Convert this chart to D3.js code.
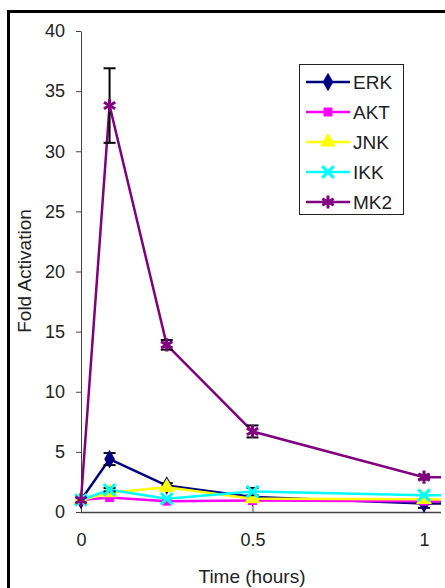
<!DOCTYPE html>
<html>
<head>
<meta charset="utf-8">
<script src="https://cdn.jsdelivr.net/npm/d3@7"></script>
<style>
  body { margin: 0; background: #fff; }
  svg { display: block; font-family: "Liberation Sans", Arial, sans-serif; }
</style>
</head>
<body>
<div id="chart"></div>
<script>
// time points in hours (last one lies past the cropped right edge)
var times = [0, 0.0833, 0.25, 0.5, 1, 2];
var seriesNames = ['ERK', 'AKT', 'JNK', 'IKK', 'MK2'];
var erkValues = [1, 4.4, 2.2, 1.25, 0.7, 0.7];
var aktValues = [1, 1.2, 0.9, 0.95, 0.9, 0.9];
var jnkValues = [1, 1.6, 2.05, 1.1, 1.05, 1.0];
var ikkValues = [1, 1.85, 1.1, 1.7, 1.4, 1.3];
var mk2Values = [1, 33.8, 13.9, 6.7, 2.9, 2.6];
var erkErrors = [0, 0.5, 0.2, 0, 0.35, 0];
var aktErrors = [0, 0, 0, 0, 0, 0];
var jnkErrors = [0, 0, 0, 0, 0, 0];
var ikkErrors = [0, 0.15, 0, 0.3, 0, 0];
var mk2Errors = [0, 3.1, 0.4, 0.5, 0.2, 0];
var xTicks = [0, 0.5, 1];
var yTicks = [0, 5, 10, 15, 20, 25, 30, 35, 40];

window.onload = function() {
    drawChart();
}

function drawChart() {
    var width = 445;
    var height = 588;
    var colors = ['#000080', '#ff00ff', '#ffff00', '#00ffff', '#800080'];
    var values = [erkValues, aktValues, jnkValues, ikkValues, mk2Values];
    var errors = [erkErrors, aktErrors, jnkErrors, ikkErrors, mk2Errors];

    var series = seriesNames.map(function(name, i) {
        return {
            name: name,
            color: colors[i],
            points: times.map(function(t, j) {
                return { t: t, v: values[i][j], e: errors[i][j] };
            })
        };
    });

    var x = d3.scaleLinear().domain([0, 1]).range([81, 424]);
    var y = d3.scaleLinear().domain([0, 40]).range([512, 31]);

    var svg = d3.select('#chart')
        .append('svg')
        .attr('width', width)
        .attr('height', height);

    svg.append('defs').append('clipPath')
        .attr('id', 'plotclip')
        .append('rect')
        .attr('x', 0).attr('y', 0)
        .attr('width', 441).attr('height', height);

    // frame (top and left edges of the cropped border)
    svg.append('rect').attr('x', 7).attr('y', 10).attr('width', 438).attr('height', 3).attr('fill', '#000');
    svg.append('rect').attr('x', 7).attr('y', 10).attr('width', 3).attr('height', 578).attr('fill', '#000');

    // y axis
    var yAxis = svg.append('g')
        .attr('transform', 'translate(81,0)')
        .call(d3.axisLeft(y).tickValues(yTicks).tickSizeInner(5).tickSizeOuter(0).tickPadding(11));
    yAxis.select('.domain').attr('stroke', '#444');
    yAxis.selectAll('.tick line').attr('stroke', '#444');
    yAxis.selectAll('text').attr('font-size', 18).attr('fill', '#222')
        .attr('font-family', '"Liberation Sans", Arial, sans-serif');

    // x axis
    var xAxis = svg.append('g')
        .attr('transform', 'translate(0,512.5)')
        .call(d3.axisBottom(x).tickValues(xTicks).tickFormat(d3.format('')).tickSizeInner(-7).tickSizeOuter(0).tickPadding(21));
    xAxis.select('.domain').remove();
    xAxis.append('line')
        .attr('x1', 81).attr('x2', 441)
        .attr('stroke', '#444').attr('stroke-width', 1.5);
    xAxis.selectAll('.tick line').attr('stroke', '#444');
    xAxis.selectAll('text').attr('font-size', 18).attr('fill', '#222')
        .attr('font-family', '"Liberation Sans", Arial, sans-serif');

    // titles
    svg.append('text')
        .attr('x', 252).attr('y', 583)
        .attr('text-anchor', 'middle')
        .attr('font-size', 19).attr('fill', '#222')
        .text('Time (hours)');
    svg.append('text')
        .attr('transform', 'translate(31,271) rotate(-90)')
        .attr('text-anchor', 'middle')
        .attr('font-size', 19).attr('fill', '#222')
        .text('Fold Activation');

    var plot = svg.append('g').attr('clip-path', 'url(#plotclip)');

    var line = d3.line()
        .x(function(d) { return x(d.t); })
        .y(function(d) { return y(d.v); });

    series.forEach(function(s, i) {
        var g = plot.append('g').attr('class', 'series-' + s.name);

        g.append('path')
            .datum(s.points)
            .attr('d', line)
            .attr('fill', 'none')
            .attr('stroke', s.color)
            .attr('stroke-width', 2.5);

        // error bars
        var eb = g.selectAll('.err')
            .data(s.points.filter(function(d) { return d.e > 0; }))
            .enter()
            .append('g')
            .attr('class', 'err');
        eb.append('line')
            .attr('x1', function(d) { return x(d.t); })
            .attr('x2', function(d) { return x(d.t); })
            .attr('y1', function(d) { return y(d.v - d.e); })
            .attr('y2', function(d) { return y(d.v + d.e); })
            .attr('stroke', '#000').attr('stroke-width', 2);
        [-1, 1].forEach(function(sign) {
            eb.append('line')
                .attr('x1', function(d) { return x(d.t) - 6; })
                .attr('x2', function(d) { return x(d.t) + 6; })
                .attr('y1', function(d) { return y(d.v + sign * d.e); })
                .attr('y2', function(d) { return y(d.v + sign * d.e); })
                .attr('stroke', '#000').attr('stroke-width', 2);
        });

        g.selectAll('.marker')
            .data(s.points)
            .enter()
            .append('path')
            .attr('class', 'marker')
            .attr('transform', function(d) { return 'translate(' + x(d.t) + ',' + y(d.v) + ')'; })
            .call(styleMarker, i, s.color);
    });

    // legend
    var legend = svg.append('g');
    legend.append('rect')
        .attr('x', 299.5).attr('y', 64.5)
        .attr('width', 104).attr('height', 150)
        .attr('fill', '#fff')
        .attr('stroke', '#222').attr('stroke-width', 1);

    var item = legend.selectAll('.legend')
        .data(series)
        .enter()
        .append('g')
        .attr('class', 'legend')
        .attr('transform', function(d, i) { return 'translate(0,' + (82 + i * 30) + ')'; });
    item.append('line')
        .attr('x1', 306).attr('x2', 350)
        .attr('stroke', function(d) { return d.color; })
        .attr('stroke-width', 2.5);
    item.each(function(d, i) {
        d3.select(this).append('path')
            .attr('transform', 'translate(328,0)')
            .call(styleMarker, i, d.color);
    });
    item.append('text')
        .attr('x', 353).attr('y', 7)
        .attr('font-size', 19).attr('fill', '#222')
        .text(function(d) { return d.name; });
}

function styleMarker(sel, i, color) {
    var shapes = [d3.symbolDiamond, d3.symbolSquare, d3.symbolTriangle,
                  d3.symbolTimes || d3.symbolCross, d3.symbolAsterisk || d3.symbolCross];
    var sizes = [100, 80, 110, 90, 120];
    sel.attr('d', d3.symbol().type(shapes[i]).size(sizes[i]));
    if (i >= 3) {
        sel.attr('fill', 'none').attr('stroke', color).attr('stroke-width', 3);
    } else {
        sel.attr('fill', color).attr('stroke', 'none');
    }
}
</script>
</body>
</html>
